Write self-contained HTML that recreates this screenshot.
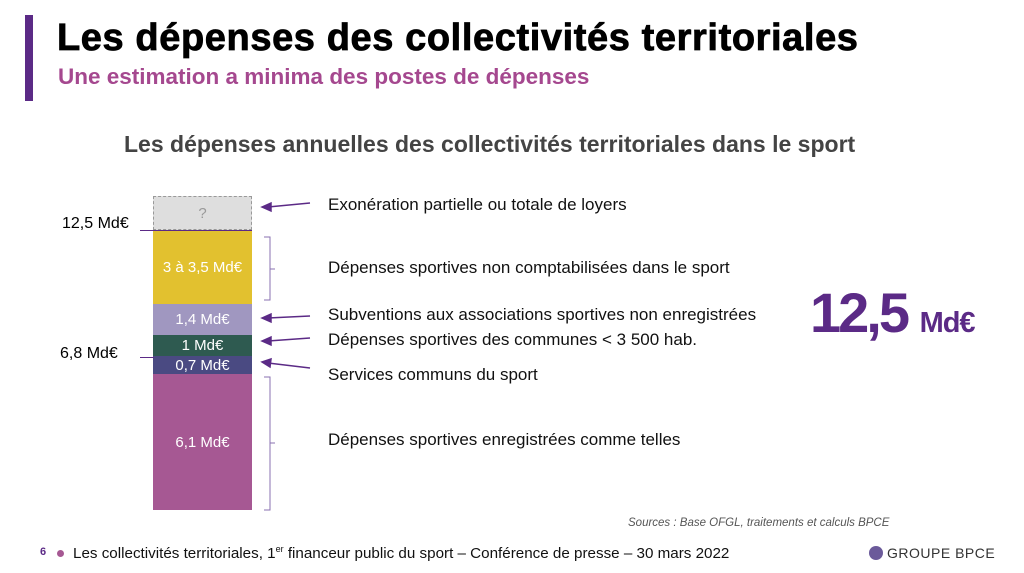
<!DOCTYPE html>
<html><head><meta charset="utf-8"><style>
body{margin:0;width:1024px;height:573px;background:#fff;position:relative;overflow:hidden;font-family:"Liberation Sans",sans-serif}
.a{position:absolute;white-space:nowrap}
.seg{position:absolute;left:153px;width:99px;color:#fff;font-size:15px;text-align:center;display:flex;align-items:center;justify-content:center}
.lbl{position:absolute;left:328px;font-size:17px;color:#111;white-space:nowrap}
</style></head><body>
<div class="a" style="left:25px;top:15px;width:8px;height:86px;background:#5b2a86"></div>
<div class="a" style="left:57px;top:17px;font-size:38px;font-weight:bold;color:#000;letter-spacing:0.6px;-webkit-text-stroke:0.8px #000">Les dépenses des collectivités territoriales</div>
<div class="a" style="left:58px;top:64px;font-size:22.5px;font-weight:bold;color:#a5488f">Une estimation a minima des postes de dépenses</div>
<div class="a" style="left:124px;top:131px;font-size:23px;font-weight:bold;color:#444">Les dépenses annuelles des collectivités territoriales dans le sport</div>

<div class="seg" style="top:196px;height:32px;background:#dedede;border:1px dashed #999;width:97px;color:#999">?</div>
<div class="seg" style="top:230px;height:74px;background:#e2c12f">3 à 3,5 Md€</div>
<div class="seg" style="top:304px;height:31px;background:#a097c0">1,4 Md€</div>
<div class="seg" style="top:335px;height:21px;background:#2e5a50">1 Md€</div>
<div class="seg" style="top:356px;height:18px;background:#4a4a82">0,7 Md€</div>
<div class="seg" style="top:374px;height:136px;background:#a65893">6,1 Md€</div>

<div class="a" style="left:62px;top:215px;font-size:16px">12,5 Md€</div>
<div class="a" style="left:140px;top:230px;width:112px;height:1px;background:#5b2a86"></div>
<div class="a" style="left:60px;top:345px;font-size:16px">6,8 Md€</div>
<div class="a" style="left:140px;top:357px;width:14px;height:1px;background:#5b2a86"></div>

<svg class="a" style="left:0;top:0" width="1024" height="573">
<g stroke="#8a70b0" stroke-width="1" fill="none">
<path d="M264 237 H270 V300 H264 M270 269 H275"/>
<path d="M264 377 H270 V510 H264 M270 443 H275"/>
</g>
<g stroke="#5b2a86" stroke-width="1.5" fill="#5b2a86">
<line x1="310" y1="203" x2="268" y2="207"/><path d="M262 207 L271 203 L271 211 Z"/>
<line x1="310" y1="316" x2="268" y2="318"/><path d="M262 318 L271 314 L271 322 Z"/>
<line x1="310" y1="338" x2="268" y2="341"/><path d="M262 341 L271 337 L271 345 Z"/>
<line x1="310" y1="368" x2="268" y2="363"/><path d="M262 362 L271 359 L270 367 Z"/>
</g>
</svg>

<div class="lbl" style="top:195px">Exonération partielle ou totale de loyers</div>
<div class="lbl" style="top:258px">Dépenses sportives non comptabilisées dans le sport</div>
<div class="lbl" style="top:305px">Subventions aux associations sportives non enregistrées</div>
<div class="lbl" style="top:330px">Dépenses sportives des communes &lt; 3 500 hab.</div>
<div class="lbl" style="top:365px">Services communs du sport</div>
<div class="lbl" style="top:430px">Dépenses sportives enregistrées comme telles</div>

<div class="a" style="left:810px;top:280px;font-size:56px;font-weight:bold;color:#5b2a86;letter-spacing:-3px">12,5 <span style="font-size:29px;letter-spacing:-1px">Md€</span></div>

<div class="a" style="left:628px;top:517px;font-size:11.5px;font-style:italic;color:#555">Sources : Base OFGL, traitements et calculs BPCE</div>
<div class="a" style="left:40px;top:546px;font-size:11px;color:#5b2a86;font-weight:bold">6</div>
<div class="a" style="left:57px;top:550px;width:7px;height:7px;border-radius:50%;background:#a65893"></div>
<div class="a" style="left:73px;top:544px;font-size:15.2px;color:#111">Les collectivités territoriales, 1<sup style="font-size:9px">er</sup> financeur public du sport – Conférence de presse – 30 mars 2022</div>
<div class="a" style="left:869px;top:546px;width:14px;height:14px;border-radius:50%;background:#6b5a9a"></div>
<div class="a" style="left:887px;top:545px;font-size:14px;color:#333;letter-spacing:0.5px">GROUPE BPCE</div>
</body></html>
